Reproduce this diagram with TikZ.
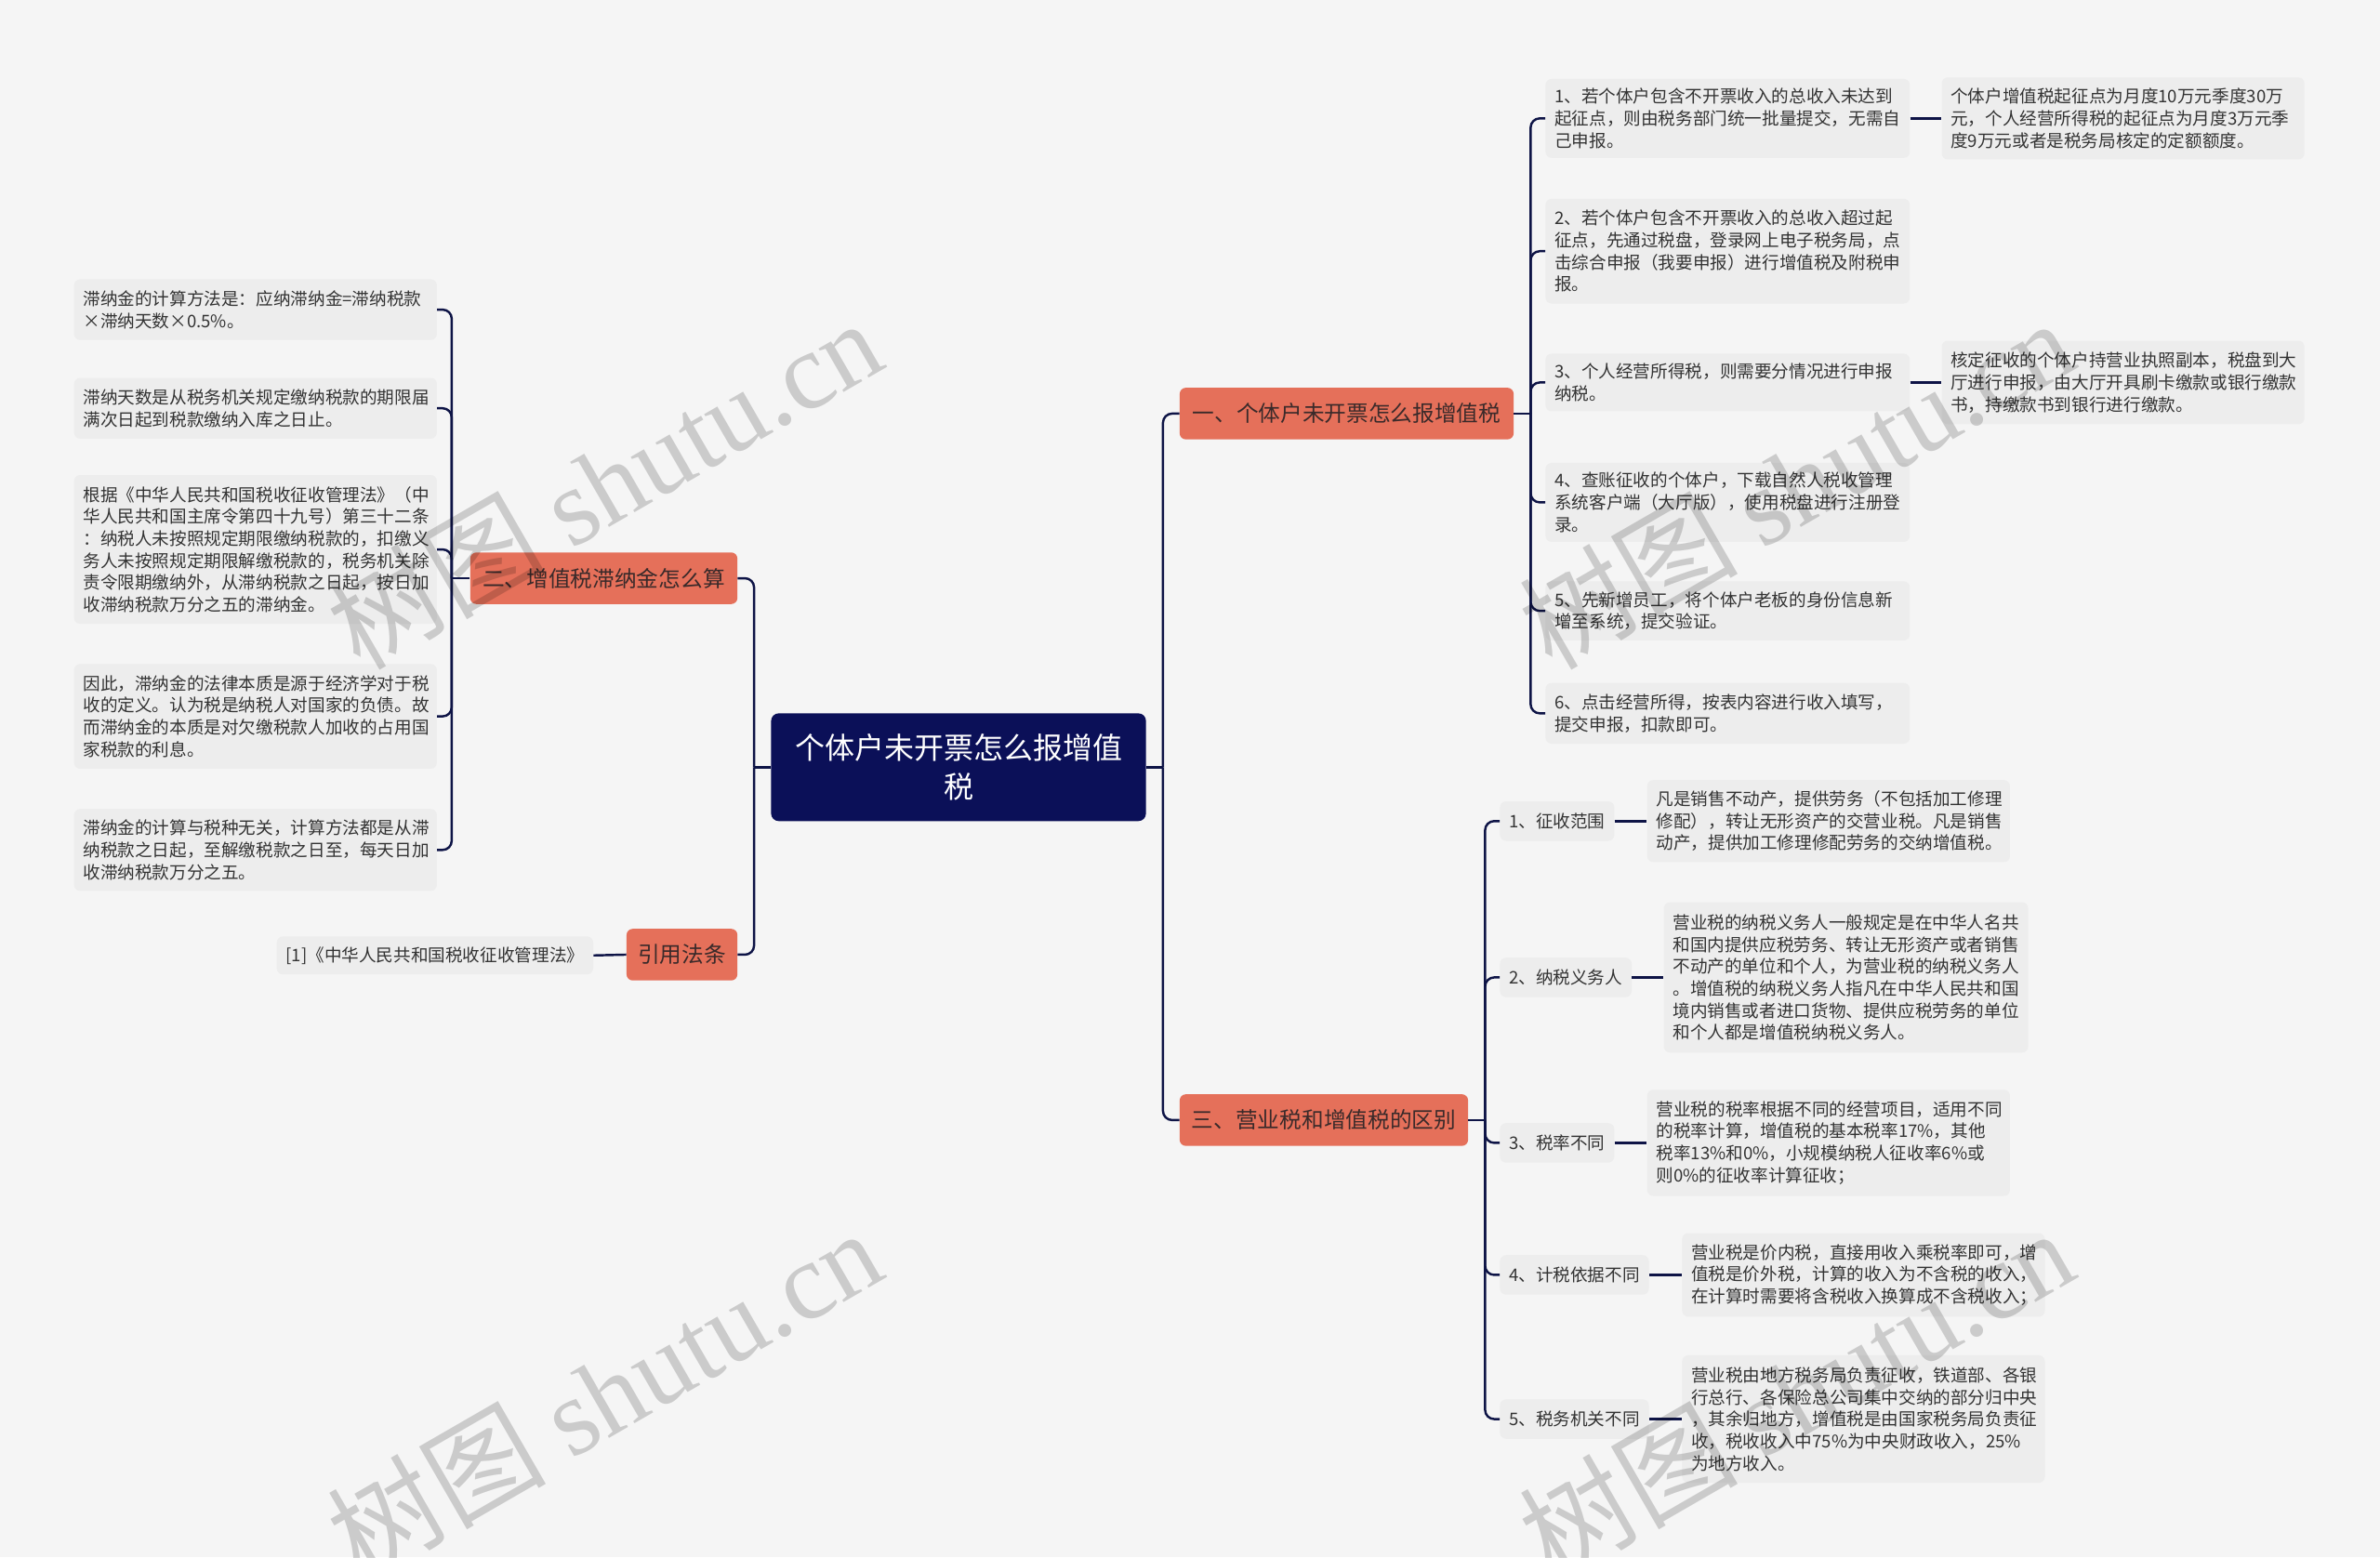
\documentclass[tikz,border=0pt]{standalone}
\usepackage{fontspec}
\setmainfont{Noto Sans CJK SC}
\newfontfamily\wmserif{Liberation Serif}
\definecolor{bgc}{HTML}{F5F5F5}
\definecolor{leafc}{HTML}{EDEDED}
\definecolor{txtc}{HTML}{333333}
\definecolor{brc}{HTML}{E5705A}
\definecolor{brtxt}{HTML}{3A2A2A}
\definecolor{rootc}{HTML}{0B1058}
\definecolor{linec}{HTML}{0E1446}
\tikzset{
  leaf/.style={rectangle, rounded corners=4pt, fill=leafc, text=txtc,
    font=\fontsize{11.4}{14.5}\selectfont, align=left, inner xsep=6pt, inner ysep=3pt},
  branch/.style={rectangle, rounded corners=4pt, fill=brc, text=brtxt,
    font=\fontsize{14.5}{17}\selectfont, align=center, inner xsep=4pt, minimum height=34pt},
  rootbox/.style={rectangle, rounded corners=5pt, fill=rootc, text=white,
    font=\fontsize{19.6}{26}\selectfont, align=center, minimum width=247pt, minimum height=71pt},
  conn/.style={draw=linec, line width=1.5pt, rounded corners=6pt},
  wm/.style={text=black, text opacity=0.17, font=\fontsize{72}{78}\selectfont, rotate=30}
}
\begin{document}
\begin{tikzpicture}[x=1pt,y=-1pt]
\fill[bgc] (0,0) rectangle (1568,1026);
\useasboundingbox (0,0) rectangle (1568,1026);

% root
\node[rootbox] (root) at (631.5,505.5) {个体户未开票怎么报增值\\税};

% branches
\node[branch, anchor=west, minimum width=220pt] (b1) at (777,272.5) {一、个体户未开票怎么报增值税};
\node[branch, anchor=west, minimum width=190pt] (b3) at (777,738) {三、营业税和增值税的区别};
\node[branch, anchor=east, minimum width=176pt] (b2) at (486,381) {二、增值税滞纳金怎么算};
\node[branch, anchor=east, minimum width=73pt] (b4) at (486,629) {引用法条};

% branch 1 children
\node[leaf, anchor=west, text width=228pt, minimum height=52pt] (c1) at (1018,78) {1、若个体户包含不开票收入的总收入未达到\\起征点，则由税务部门统一批量提交，无需自\\己申报。};
\node[leaf, anchor=west, text width=228pt, minimum height=69pt] (c2) at (1018,165.5) {2、若个体户包含不开票收入的总收入超过起\\征点，先通过税盘，登录网上电子税务局，点\\击综合申报（我要申报）进行增值税及附税申\\报。};
\node[leaf, anchor=west, text width=228pt, minimum height=38pt] (c3) at (1018,252) {3、个人经营所得税，则需要分情况进行申报\\纳税。};
\node[leaf, anchor=west, text width=228pt, minimum height=52pt] (c4) at (1018,331) {4、查账征收的个体户，下载自然人税收管理\\系统客户端（大厅版），使用税盘进行注册登\\录。};
\node[leaf, anchor=west, text width=228pt, minimum height=39pt] (c5) at (1018,402.5) {5、先新增员工，将个体户老板的身份信息新\\增至系统，提交验证。};
\node[leaf, anchor=west, text width=228pt, minimum height=40pt] (c6) at (1018,470) {6、点击经营所得，按表内容进行收入填写，\\提交申报，扣款即可。};
\node[leaf, anchor=west, text width=227pt, minimum height=54pt] (g1) at (1279,78) {个体户增值税起征点为月度10万元季度30万\\元，个人经营所得税的起征点为月度3万元季\\度9万元或者是税务局核定的定额额度。};
\node[leaf, anchor=west, text width=227pt, minimum height=55pt] (g3) at (1279,252) {核定征收的个体户持营业执照副本，税盘到大\\厅进行申报，由大厅开具刷卡缴款或银行缴款\\书，持缴款书到银行进行缴款。};

% branch 3 children
\node[leaf, anchor=west, minimum height=26pt] (d1) at (988,541) {1、征收范围};
\node[leaf, anchor=west, minimum height=26pt] (d2) at (988,644) {2、纳税义务人};
\node[leaf, anchor=west, minimum height=26pt] (d3) at (988,753) {3、税率不同};
\node[leaf, anchor=west, minimum height=26pt] (d4) at (988,840) {4、计税依据不同};
\node[leaf, anchor=west, minimum height=26pt] (d5) at (988,935) {5、税务机关不同};
\node[leaf, anchor=west, text width=227pt, minimum height=54pt] (h1) at (1085,541) {凡是销售不动产，提供劳务（不包括加工修理\\修配），转让无形资产的交营业税。凡是销售\\动产，提供加工修理修配劳务的交纳增值税。};
\node[leaf, anchor=west, text width=228pt, minimum height=99pt] (h2) at (1096,644) {营业税的纳税义务人一般规定是在中华人名共\\和国内提供应税劳务、转让无形资产或者销售\\不动产的单位和个人，为营业税的纳税义务人\\。增值税的纳税义务人指凡在中华人民共和国\\境内销售或者进口货物、提供应税劳务的单位\\和个人都是增值税纳税义务人。};
\node[leaf, anchor=west, text width=227pt, minimum height=70pt] (h3) at (1085,753) {营业税的税率根据不同的经营项目，适用不同\\的税率计算，增值税的基本税率17\%，其他\\税率13\%和0\%，小规模纳税人征收率6\%或\\则0\%的征收率计算征收；};
\node[leaf, anchor=west, text width=227pt, minimum height=55pt] (h4) at (1108,840) {营业税是价内税，直接用收入乘税率即可，增\\值税是价外税，计算的收入为不含税的收入，\\在计算时需要将含税收入换算成不含税收入；};
\node[leaf, anchor=west, text width=227pt, minimum height=84pt] (h5) at (1108,935) {营业税由地方税务局负责征收，铁道部、各银\\行总行、各保险总公司集中交纳的部分归中央\\，其余归地方，增值税是由国家税务局负责征\\收，税收收入中75\%为中央财政收入，25\%\\为地方收入。};

% branch 2 children
\node[leaf, anchor=east, text width=227pt, minimum height=40pt] (e1) at (288,204) {滞纳金的计算方法是：应纳滞纳金=滞纳税款\\×滞纳天数×0.5\%。};
\node[leaf, anchor=east, text width=227pt, minimum height=40pt] (e2) at (288,269) {滞纳天数是从税务机关规定缴纳税款的期限届\\满次日起到税款缴纳入库之日止。};
\node[leaf, anchor=east, text width=227pt, minimum height=98pt] (e3) at (288,362) {根据《中华人民共和国税收征收管理法》（中\\华人民共和国主席令第四十九号）第三十二条\\：纳税人未按照规定期限缴纳税款的，扣缴义\\务人未按照规定期限解缴税款的，税务机关除\\责令限期缴纳外，从滞纳税款之日起，按日加\\收滞纳税款万分之五的滞纳金。};
\node[leaf, anchor=east, text width=227pt, minimum height=69pt] (e4) at (288,472) {因此，滞纳金的法律本质是源于经济学对于税\\收的定义。认为税是纳税人对国家的负债。故\\而滞纳金的本质是对欠缴税款人加收的占用国\\家税款的利息。};
\node[leaf, anchor=east, text width=227pt, minimum height=54pt] (e5) at (288,560) {滞纳金的计算与税种无关，计算方法都是从滞\\纳税款之日起，至解缴税款之日至，每天日加\\收滞纳税款万分之五。};
\node[leaf, anchor=east, minimum height=25pt] (r1) at (391,629.5) {[1]《中华人民共和国税收征收管理法》};

% trunk points
\coordinate (tR) at ([xshift=11pt]root.east);
\coordinate (tL) at ([xshift=-11pt]root.west);
\coordinate (t1) at ([xshift=11pt]b1.east);
\coordinate (t3) at ([xshift=11pt]b3.east);
\coordinate (t2) at ([xshift=-12pt]b2.west);

% connectors
\draw[conn] (root.east) -- (tR);
\draw[conn] (tR) |- (b1.west);
\draw[conn] (tR) |- (b3.west);
\draw[conn] (root.west) -- (tL);
\draw[conn] (tL) |- (b2.east);
\draw[conn] (tL) |- (b4.east);

\draw[conn] (b1.east) -- (t1);
\foreach \c in {c1,c2,c3,c4,c5,c6} { \draw[conn] (t1) |- (\c.west); }
\draw[conn] (c1.east) -- (g1.west);
\draw[conn] (c3.east) -- (g3.west);

\draw[conn] (b3.east) -- (t3);
\foreach \c in {d1,d2,d3,d4,d5} { \draw[conn] (t3) |- (\c.west); }
\draw[conn] (d1.east) -- (h1.west);
\draw[conn] (d2.east) -- (h2.west);
\draw[conn] (d3.east) -- (h3.west);
\draw[conn] (d4.east) -- (h4.west);
\draw[conn] (d5.east) -- (h5.west);

\draw[conn] (b2.west) -- (t2);
\foreach \c in {e1,e2,e3,e4,e5} { \draw[conn] (t2) |- (\c.east); }
\draw[conn] (b4.west) -- (r1.east);

% watermarks
\node[wm] (w1) at (398,318) {树图 {\wmserif shutu.cn}};
\node[wm] (w2) at (1183,318) {树图 {\wmserif shutu.cn}};
\node[wm] (w3) at (398,918) {树图 {\wmserif shutu.cn}};
\node[wm] (w4) at (1183,918) {树图 {\wmserif shutu.cn}};
\end{tikzpicture}
\end{document}
